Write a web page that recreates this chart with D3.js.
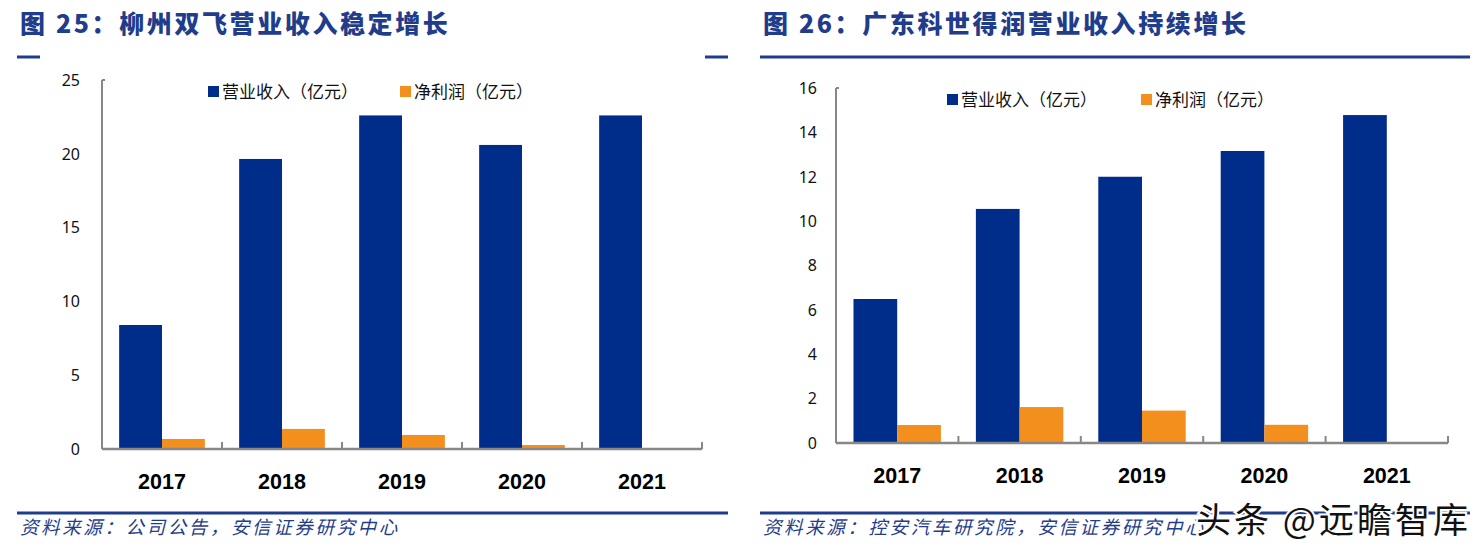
<!DOCTYPE html>
<html><head><meta charset="utf-8">
<script src="https://cdn.jsdelivr.net/npm/d3@7"></script>
<style>body{margin:0;background:#fff;}svg{display:block;}</style>
</head><body>
<svg id="c" width="1484" height="553"></svg>
<script>
const years = ["2017","2018","2019","2020","2021"];
const seriesNames = ["营业收入（亿元）","净利润（亿元）"];
// Chart 25: 柳州双飞
const revenueA = [8.4, 19.65, 22.6, 20.6, 22.6];
const profitA  = [0.68, 1.36, 0.95, 0.27, null];
const ticksA = [0,5,10,15,20,25];
// Chart 26: 广东科世得润
const revenueB = [6.49, 10.55, 12.0, 13.16, 14.78];
const profitB  = [0.81, 1.62, 1.46, 0.82, null];
const ticksB = [0,2,4,6,8,10,12,14,16];
const titleA = "图 25：柳州双飞营业收入稳定增长";
const titleB = "图 26：广东科世得润营业收入持续增长";
const sourceA = "资料来源：公司公告，安信证券研究中心";
const sourceB = "资料来源：控安汽车研究院，安信证券研究中心";

const BLUE = "#002c8a", ORANGE = "#f3901d", TBLUE = "#1f3d8b", AXIS = "#878787";
const svg = d3.select("#c");

function panel(o){
  const g = svg.append("g");
  g.append("text").attr("x", o.tx).attr("y", 33).text(o.title)
    .attr("font-family","'Noto Sans CJK SC'").attr("font-weight","900").attr("font-size",25)
    .attr("letter-spacing","2.6px").attr("fill",TBLUE);
  const y = d3.scaleLinear().domain([0, o.max]).range([o.y0, o.y1]);
  const x = d3.scaleBand().domain(years).range([o.x0, o.x1]);
  const inner = d3.scaleBand().domain([0,1]).range([0, x.bandwidth()]).paddingInner(0).paddingOuter(0.4);
  const data = years.map((yr,i)=>({yr, v:[o.rev[i], o.prof[i]]}));
  data.forEach(d=>{
    d.v.forEach((val,k)=>{
      if(val==null) return;
      g.append("rect").attr("x", x(d.yr)+inner(k)).attr("width", inner.bandwidth())
        .attr("y", y(val)).attr("height", y(0)-y(val)).attr("fill", k===0?BLUE:ORANGE);
    });
  });
  g.append("line").attr("x1",o.x0).attr("x2",o.x0).attr("y1",y(o.max)).attr("y2",y(0))
    .attr("stroke",AXIS).attr("stroke-width",2);
  g.append("line").attr("x1",o.x0).attr("x2",o.x0+3).attr("y1",y(o.max)).attr("y2",y(o.max))
    .attr("stroke",AXIS).attr("stroke-width",2);
  g.selectAll(".yl").data(o.ticks).enter().append("text")
    .attr("x", o.x0 - o.lgap).attr("y", d=>y(d)).attr("dy","0.36em").attr("text-anchor","end")
    .attr("font-family","'Noto Sans'").attr("font-size",16).attr("fill","#111").text(d=>d);
  g.append("line").attr("x1",o.x0).attr("x2",o.x1).attr("y1",y(0)).attr("y2",y(0))
    .attr("stroke",AXIS).attr("stroke-width",2.5);
  years.forEach((yr,i)=>{
    if(i>0) g.append("line").attr("x1",x(yr)).attr("x2",x(yr)).attr("y1",y(0)).attr("y2",y(0)-7)
      .attr("stroke",AXIS).attr("stroke-width",2);
  });
  g.append("line").attr("x1",o.x1).attr("x2",o.x1).attr("y1",y(0)).attr("y2",y(0)-7)
      .attr("stroke",AXIS).attr("stroke-width",2);
  g.selectAll(".xl").data(years).enter().append("text")
    .attr("x", d=>x(d)+x.bandwidth()/2).attr("y", o.xly).attr("text-anchor","middle")
    .attr("font-family","'Liberation Sans'").attr("font-weight","bold").attr("font-size",21.5)
    .attr("fill","#000").text(d=>d);
  const lx = [o.lx1, o.lx2];
  seriesNames.forEach((nm,k)=>{
    g.append("rect").attr("x",lx[k]).attr("y",o.ly-6).attr("width",11).attr("height",11)
      .attr("fill", k===0?BLUE:ORANGE);
    g.append("text").attr("x",lx[k]+14).attr("y",o.ly).attr("dy","0.36em")
      .attr("font-family","'Noto Sans CJK SC'").attr("font-size",17).attr("fill","#111").text(nm);
  });
  if(o.fullTop){
    g.append("line").attr("x1",o.sx0).attr("x2",o.sx1).attr("y1",57).attr("y2",57).attr("stroke",TBLUE).attr("stroke-width",3);
  } else {
    g.append("line").attr("x1",o.sx0).attr("x2",o.sx0+23).attr("y1",57).attr("y2",57).attr("stroke",TBLUE).attr("stroke-width",3);
    g.append("line").attr("x1",o.sx1-23).attr("x2",o.sx1).attr("y1",57).attr("y2",57).attr("stroke",TBLUE).attr("stroke-width",3);
  }
  g.append("line").attr("x1",o.sx0).attr("x2",o.sx1).attr("y1",513).attr("y2",513).attr("stroke",TBLUE).attr("stroke-width",3);
  g.append("text").attr("x",o.tx).attr("y",534).text(o.source)
    .attr("font-family","'Noto Sans CJK SC'").attr("font-size",18.5).attr("font-style","italic")
    .attr("letter-spacing","2.6px").attr("fill",TBLUE);
}

panel({title:titleA, source:sourceA, tx:20, sx0:17, sx1:728, fullTop:false,
  rev:revenueA, prof:profitA, ticks:ticksA, max:25, y0:449, y1:80, x0:102, x1:702, lgap:22,
  xly:489, lx1:208, lx2:400, ly:92});
panel({title:titleB, source:sourceB, tx:763, sx0:760, sx1:1470, fullTop:true,
  rev:revenueB, prof:profitB, ticks:ticksB, max:16, y0:443, y1:88, x0:836, x1:1448, lgap:19,
  xly:483, lx1:947, lx2:1141, ly:100});

svg.append("text").attr("x",1196).attr("y",533).text("头条 @远瞻智库")
  .attr("font-family","'Noto Sans CJK SC'").attr("font-size",35).attr("fill","#111")
  .attr("letter-spacing","3px")
  .attr("stroke","#fff").attr("stroke-width",4).attr("paint-order","stroke");
</script>
</body></html>
